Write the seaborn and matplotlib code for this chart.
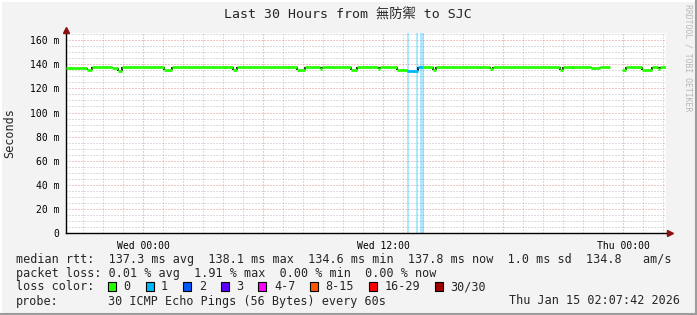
import numpy as np
import pandas as pd
import matplotlib
matplotlib.use("Agg")
import matplotlib.pyplot as plt
import matplotlib.dates as mdates
from matplotlib.ticker import MultipleLocator, FuncFormatter
from matplotlib.patches import Rectangle
from matplotlib.lines import Line2D
import seaborn as sns

# ---------------- data ----------------
title = "Last 30 Hours from 無防禦 to SJC"
y_label = "Seconds"
start_time = "2026-01-13 20:07:42"
end_time = "2026-01-15 02:07:42"

seg_time = ["2026-01-13 20:07", "2026-01-13 21:10", "2026-01-13 21:25", "2026-01-13 22:25",
            "2026-01-13 22:43", "2026-01-13 22:55", "2026-01-14 01:01", "2026-01-14 01:25",
            "2026-01-14 04:28", "2026-01-14 04:40", "2026-01-14 07:40", "2026-01-14 08:04",
            "2026-01-14 08:49", "2026-01-14 08:55", "2026-01-14 10:22", "2026-01-14 10:40",
            "2026-01-14 11:43", "2026-01-14 11:49", "2026-01-14 12:40", "2026-01-14 13:10",
            "2026-01-14 13:43", "2026-01-14 13:58", "2026-01-14 14:28", "2026-01-14 14:37",
            "2026-01-14 17:19", "2026-01-14 17:28", "2026-01-14 20:49", "2026-01-14 20:58",
            "2026-01-14 22:22", "2026-01-14 22:49", "2026-01-14 23:19", "2026-01-14 23:55",
            "2026-01-15 00:07", "2026-01-15 00:55", "2026-01-15 01:25", "2026-01-15 01:43",
            "2026-01-15 01:49"]
seg_rtt_ms = [137.3, 134.9, 138.0, 137.3,
              134.8, 137.9, 134.9, 137.7,
              135.2, 137.6, 134.9, 137.9,
              135.8, 137.8, 135.0, 137.9,
              135.8, 137.8, 134.9, 134.6,
              138.1, 137.6, 135.3, 137.7,
              135.8, 137.6, 135.6, 137.8,
              137.1, 137.6, np.nan, 135.2,
              137.8, 135.3, 137.6, 135.8,
              137.8]
seg_loss = [0, 0, 0, 0,
            0, 0, 0, 0,
            0, 0, 0, 0,
            0, 0, 0, 0,
            0, 0, 0, 1,
            1, 0, 0, 0,
            0, 0, 0, 0,
            0, 0, 0, 0,
            0, 0, 0, 0,
            0]

loss_band_start = ["2026-01-14 13:10", "2026-01-14 13:37", "2026-01-14 13:49"]
loss_band_end = ["2026-01-14 13:16", "2026-01-14 13:43", "2026-01-14 14:01"]
loss_band_count = [1, 1, 1]

loss_labels = ["0", "1", "2", "3", "4-7", "8-15", "16-29", "30/30"]
loss_colors = ["#26ff00", "#00b8ff", "#0059ff", "#5e00ff", "#ff00ff", "#ff5500", "#ff0000", "#a10000"]

row_rtt = "median rtt:  137.3 ms avg  138.1 ms max  134.6 ms min  137.8 ms now  1.0 ms sd  134.8   am/s"
row_loss = "packet loss: 0.01 % avg  1.91 % max  0.00 % min  0.00 % now"
row_color = "loss color:"
row_probe_left = "probe:"
row_probe_mid = "30 ICMP Echo Pings (56 Bytes) every 60s"
row_probe_date = "Thu Jan 15 02:07:42 2026"
watermark = "RRDTOOL / TOBI OETIKER"

# ---------------- style ----------------
sns.set_style("white")
plt.rcParams["font.family"] = ["DejaVu Sans Mono", "Noto Sans CJK TC"]

W, H = 697, 315
fig = plt.figure(figsize=(W / 100, H / 100), dpi=100, facecolor="#f3f3f3")
L, R, T, B = 66, 666, 33, 233
ax = fig.add_axes([L / W, 1 - B / H, (R - L) / W, (B - T) / H])
ax.set_facecolor("white")

def tnum(s):
    return mdates.date2num(pd.Timestamp(s))

t_num = [tnum(s) for s in seg_time] + [tnum(end_time)]
x0 = tnum(start_time)
x1 = tnum(end_time)

rows = []
for i, v in enumerate(seg_rtt_ms):
    if np.isnan(v):
        continue
    rows.append(dict(t=t_num[i], rtt=v, seg=i, loss=seg_loss[i]))
    rows.append(dict(t=t_num[i + 1], rtt=v, seg=i, loss=seg_loss[i]))
df = pd.DataFrame(rows)

# loss background bands
for s, e, c in zip(loss_band_start, loss_band_end, loss_band_count):
    ax.axvspan(tnum(s), tnum(e), color=loss_colors[c], alpha=0.32, lw=0, zorder=1)

# vertical step connectors (dark)
for i in range(1, len(seg_rtt_ms)):
    a, b = seg_rtt_ms[i - 1], seg_rtt_ms[i]
    if np.isnan(a) or np.isnan(b):
        continue
    ax.vlines(t_num[i], min(a, b), max(a, b), color="black", lw=1.2, zorder=2)

palette = {k: loss_colors[k] for k in sorted(set(seg_loss))}
sns.lineplot(data=df, x="t", y="rtt", units="seg", estimator=None, hue="loss",
             palette=palette, legend=False, lw=2.0, sort=False, ax=ax, zorder=3)
for ln in ax.get_lines():
    ln.set_solid_capstyle("butt")

ax.set_xlim(x0, x1)
ax.set_ylim(0, 166)
ax.set_xlabel("")
ax.set_ylabel("")

# grid
ax.xaxis.set_major_locator(mdates.HourLocator(byhour=[0, 6, 12, 18]))
ax.xaxis.set_minor_locator(mdates.HourLocator())
def xfmt(x, pos):
    d = mdates.num2date(x)
    return d.strftime("%a %H:%M") if d.hour in (0, 12) else ""
ax.xaxis.set_major_formatter(FuncFormatter(xfmt))
ax.yaxis.set_major_locator(MultipleLocator(20))
ax.yaxis.set_minor_locator(MultipleLocator(5))
ax.yaxis.set_major_formatter(FuncFormatter(lambda v, p: "0" if v == 0 else f"{int(v)} m"))

ax.set_axisbelow(True)
ax.grid(which="minor", color="#bcbcbc", linestyle=(0, (1, 2)), lw=0.72, zorder=0)
ax.grid(which="major", color="#e09090", linestyle=(0, (1, 2)), lw=0.72, zorder=0)

ax.tick_params(axis="both", which="both", direction="out", length=2, width=0.7,
               labelsize=7, pad=3, colors="black")
ax.tick_params(axis="x", which="major", color="#d04040", pad=4)
ax.tick_params(axis="x", which="minor", color="#a0a0a0")
ax.tick_params(axis="y", which="minor", color="#a0a0a0")

for side in ["top", "right"]:
    ax.spines[side].set_visible(False)
for side in ["left", "bottom"]:
    ax.spines[side].set_color("black")
    ax.spines[side].set_linewidth(1.0)

# axis arrows
ax.plot([1.006], [0], marker=">", color="#8b1010", markersize=4, transform=ax.transAxes,
        clip_on=False, zorder=5)
ax.plot([0], [1.015], marker="^", color="#8b1010", markersize=4, transform=ax.transAxes,
        clip_on=False, zorder=5)
ax.plot([1.0, 1.006], [0, 0], color="black", lw=1.0, transform=ax.transAxes, clip_on=False)

# ---------------- texts ----------------
def fx(px):
    return px / W
def fy(py):
    return 1 - py / H

fig.text(fx(348), fy(15), title, ha="center", va="center", fontsize=9.5,
         family=["DejaVu Sans Mono", "Noto Sans CJK TC"])
fig.text(fx(10), fy(133), y_label, ha="center", va="center", rotation=90, fontsize=8.5)
fig.text(fx(688), fy(4), watermark, ha="center", va="top", rotation=270, fontsize=5.9,
         color="#b8b8b8")

fs = 8.5
fig.text(fx(16), fy(259), row_rtt, ha="left", va="center", fontsize=fs)
fig.text(fx(16), fy(273), row_loss, ha="left", va="center", fontsize=fs)
fig.text(fx(16), fy(287), row_color, ha="left", va="center", fontsize=fs)
fig.text(fx(16), fy(301), row_probe_left, ha="left", va="center", fontsize=fs)
fig.text(fx(108), fy(301), row_probe_mid, ha="left", va="center", fontsize=fs)
fig.text(fx(680), fy(301), row_probe_date, ha="right", va="center", fontsize=fs)

char_w = 7.1
bx = 108
for lab, col in zip(loss_labels, loss_colors):
    fig.add_artist(Rectangle((fx(bx), fy(291)), 8 / W, 9 / H, transform=fig.transFigure,
                             facecolor=col, edgecolor="black", lw=0.8))
    lx = bx + 15.5
    fig.text(fx(lx), fy(287), lab, ha="left", va="center", fontsize=fs)
    bx = lx + len(lab) * char_w + 15

# frame edges
fig.add_artist(Line2D([0, 1], [1 - 0.5 / H, 1 - 0.5 / H], color="#ffffff", lw=1.5, transform=fig.transFigure))
fig.add_artist(Line2D([0.5 / W, 0.5 / W], [0, 1], color="#ffffff", lw=1.5, transform=fig.transFigure))
fig.add_artist(Line2D([0, 1], [1.0 / H, 1.0 / H], color="#9c9c9c", lw=1.5, transform=fig.transFigure))
fig.add_artist(Line2D([1 - 1.0 / W, 1 - 1.0 / W], [0, 1], color="#9c9c9c", lw=1.5, transform=fig.transFigure))

fig.savefig("out.png", dpi=100, facecolor=fig.get_facecolor())
